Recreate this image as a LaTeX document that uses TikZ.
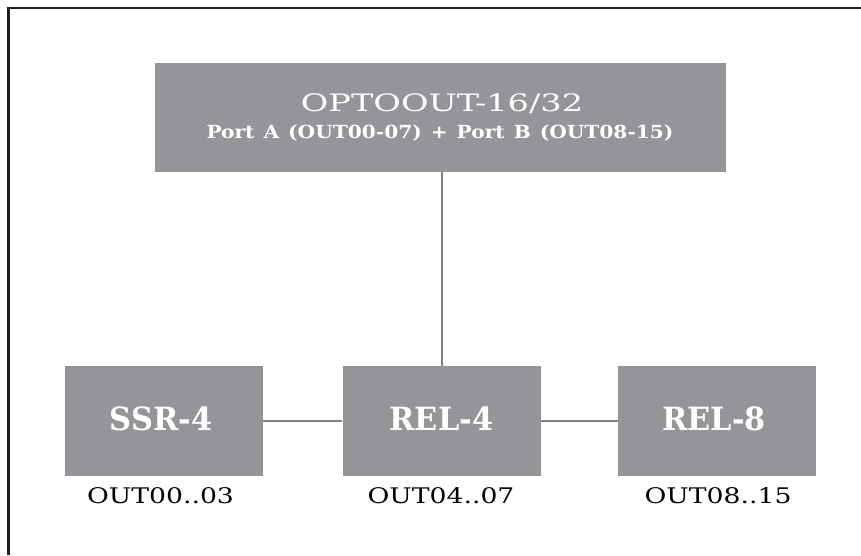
\documentclass[tikz,border=0pt]{standalone}
\usepackage{fontspec}
\setmainfont{DejaVu Serif}
\newfontfamily\unitserif[FakeStretch=0.95]{DejaVu Serif}
\newfontfamily\titleserif[FakeStretch=1.40]{DejaVu Serif}
\newfontfamily\portserif[FakeStretch=1.12]{DejaVu Serif}
\newfontfamily\rangeserif[FakeStretch=1.24]{DejaVu Serif}
\newcommand\portgap{\hspace{9pt}}
\definecolor{boxgray}{RGB}{147,149,152}
\definecolor{linegray}{RGB}{128,128,130}
\definecolor{framecol}{RGB}{35,31,32}
\begin{document}
\begin{tikzpicture}[x=1pt,y=-1pt,
  box/.style={fill=boxgray, draw=none, inner sep=0pt, text=white},
  unit/.style={box, minimum width=198pt, minimum height=110pt,
    font=\unitserif\bfseries\fontsize{32}{32}\selectfont,
    text height=25pt, text depth=7pt},
  title/.style={anchor=base, inner sep=0pt, text=white,
    font=\titleserif\fontsize{24}{24}\selectfont},
  subtitle/.style={anchor=base, inner sep=0pt, text=white,
    font=\portserif\bfseries\fontsize{18}{18}\selectfont},
  outlabel/.style={anchor=base, inner sep=0pt, text=black,
    font=\rangeserif\fontsize{21.5}{22}\selectfont},
  wire/.style={linegray, line width=2pt},
  frameline/.style={framecol, line width=2.5pt}]
\useasboundingbox (0,0) rectangle (861,555);

% frame: top and left edges only
\draw[frameline] (8.7,555) -- (8.7,7.8) -- (861,7.8);

% interface board
\node[box, minimum width=571pt, minimum height=109pt] (opto) at (440.5,117.5) {};
\node[title] (optoname) at (442,111) {OPTOOUT-16/32};
\node[subtitle] (optoports) at (440,138.3)
  {Port\portgap A\portgap (OUT00-07)\portgap +\portgap Port\portgap B\portgap (OUT08-15)};

% output modules (text set a little left of centre)
\node[unit] (ssr)  at (164,421)   {SSR-4\kern6pt};
\node[unit] (relA) at (441.5,421) {REL-4};
\node[unit] (relB) at (717,421)   {REL-8\kern6pt};

% output ranges
\node[outlabel] (ssrout)  at (160.5,503) {OUT00..03};
\node[outlabel] (relAout) at (441,503)   {OUT04..07};
\node[outlabel] (relBout) at (718,503)   {OUT08..15};

% wiring
\draw[wire] (opto.south -| 442,0) -- (relA.north -| 442,0);
\draw[wire] (ssr.east) -- (relA.west);
\draw[wire] (relA.east) -- (relB.west);
\end{tikzpicture}
\end{document}
